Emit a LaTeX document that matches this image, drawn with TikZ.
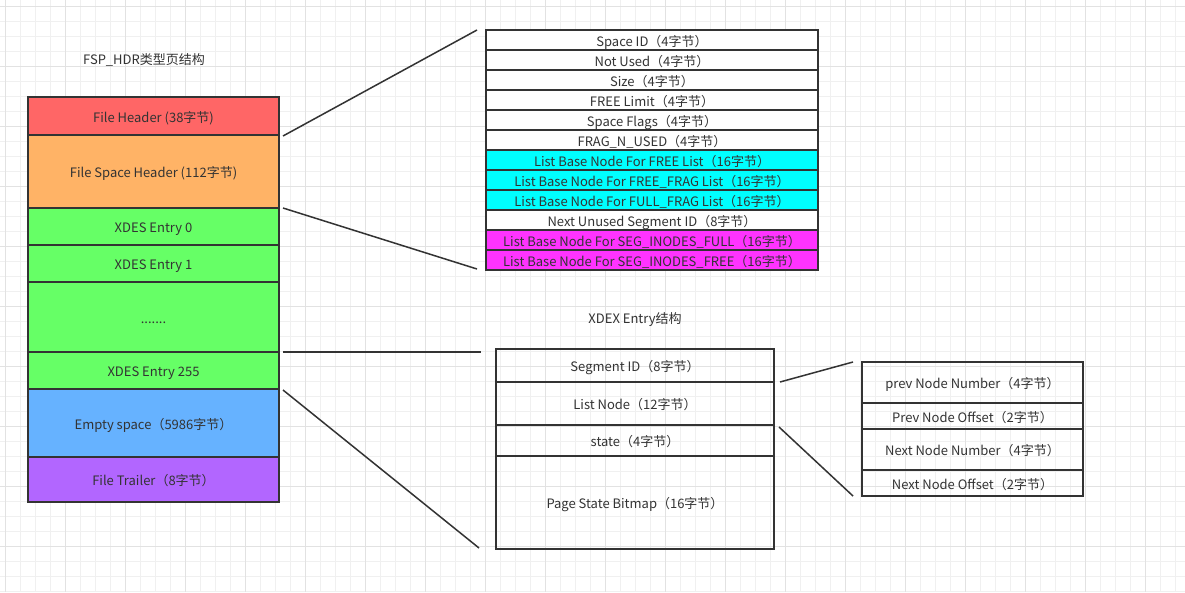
\documentclass[tikz,border=0pt]{standalone}
\usepackage{fontspec}
\setmainfont{Noto Sans CJK SC}
\usetikzlibrary{positioning}
\definecolor{txtgray}{HTML}{333333}
\definecolor{linegray}{HTML}{333333}
\definecolor{gridminor}{HTML}{F0F0F0}
\definecolor{gridmajor}{HTML}{E2E2E2}
\definecolor{hdrred}{HTML}{FF6666}
\definecolor{fsporange}{HTML}{FFB366}
\definecolor{xdesgreen}{HTML}{66FF66}
\definecolor{emptyblue}{HTML}{66B2FF}
\definecolor{trailpurple}{HTML}{B266FF}
\definecolor{listcyan}{HTML}{00FFFF}
\definecolor{segmagenta}{HTML}{FF33FF}

\begin{document}
\begin{tikzpicture}[x=1pt, y=-1pt,
    every node/.style={font=\fontsize{13}{15}\selectfont, text=txtgray},
    cell/.style={draw=linegray, line width=1.5pt, outer sep=0pt, inner sep=0pt,
        text height=12pt, text depth=0pt},
    pagecell/.style={cell, minimum width=251pt},
    spacecell/.style={cell, minimum width=332pt, minimum height=20pt},
    xdescell/.style={cell, minimum width=278pt},
    nodecell/.style={cell, minimum width=221pt},
    link/.style={draw=linegray, line width=1.5pt}]
    \useasboundingbox[fill=white] (0,0) rectangle (1185,592);
    % background grid
    \foreach \i in {0,...,78}
        \draw[gridminor, line width=0.8pt] (5+15*\i,0) -- (5+15*\i,592);
    \foreach \i in {0,...,39}
        \draw[gridminor, line width=0.8pt] (0,6.7+15*\i) -- (1185,6.7+15*\i);
    \foreach \i in {0,...,19}
        \draw[gridmajor, line width=0.8pt] (5+60*\i,0) -- (5+60*\i,592);
    \foreach \i in {0,...,9}
        \draw[gridmajor, line width=0.8pt] (0,6.7+60*\i) -- (1185,6.7+60*\i);

    % FSP_HDR page
    \node (pagetitle) at (144,60) {FSP\_HDR类型页结构};
    \node[pagecell, fill=hdrred, minimum height=38pt, anchor=north west] (fh) at (28,97) {File Header (38字节)};
    \node[pagecell, fill=fsporange, minimum height=73pt, below=0pt of fh] (fsh) {File Space Header (112字节)};
    \node[pagecell, fill=xdesgreen, minimum height=37pt, below=0pt of fsh] (x0) {XDES Entry 0};
    \node[pagecell, fill=xdesgreen, minimum height=37pt, below=0pt of x0] (x1) {XDES Entry 1};
    \node[pagecell, fill=xdesgreen, minimum height=70pt, below=0pt of x1] (xdots) {.......};
    \node[pagecell, fill=xdesgreen, minimum height=37pt, below=0pt of xdots] (x255) {XDES Entry 255};
    \node[pagecell, fill=emptyblue, minimum height=68pt, below=0pt of x255] (empty) {Empty space（5986字节）};
    \node[pagecell, fill=trailpurple, minimum height=45pt, below=0pt of empty] (trailer) {File Trailer（8字节）};

    % File Space Header
    \foreach \t/\c [count=\i] in {Space ID（4字节）/white, Not Used（4字节）/white,
        Size（4字节）/white, FREE Limit（4字节）/white, Space Flags（4字节）/white,
        FRAG\_N\_USED（4字节）/white,
        List Base Node For FREE List（16字节）/listcyan,
        List Base Node For FREE\_FRAG List（16字节）/listcyan,
        List Base Node For FULL\_FRAG List（16字节）/listcyan,
        Next Unused Segment ID（8字节）/white,
        List Base Node For SEG\_INODES\_FULL（16字节）/segmagenta,
        List Base Node For SEG\_INODES\_FREE（16字节）/segmagenta}
        \node[spacecell, fill=\c] (sp\i) at (652,20+20*\i) {\t};

    % XDES Entry
    \node (xdestitle) at (635,320) {XDEX Entry结构};
    \node[xdescell, minimum height=33pt, anchor=north west] (seg) at (496,349) {Segment ID（8字节）};
    \node[xdescell, minimum height=43pt, below=0pt of seg] (ln) {List Node（12字节）};
    \node[xdescell, minimum height=31pt, below=0pt of ln] (state) {state（4字节）};
    \node[xdescell, minimum height=93pt, below=0pt of state] (pbm) {Page State Bitmap（16字节）};

    % List Node
    \node[nodecell, minimum height=41pt, anchor=north west] (pnn) at (862,362) {prev Node Number（4字节）};
    \node[nodecell, minimum height=26pt, below=0pt of pnn] (pno) {Prev Node Offset（2字节）};
    \node[nodecell, minimum height=41pt, below=0pt of pno] (nnn) {Next Node Number（4字节）};
    \node[nodecell, minimum height=26pt, below=0pt of nnn] (nno) {Next Node Offset（2字节）};

    % links
    \draw[link] ([shift={(4,1)}]fh.south east) -- ([shift={(-9,0)}]sp1.north west);
    \draw[link] ([shift={(4,0)}]x0.north east) -- ([shift={(-9,-1)}]sp12.south west);
    \draw[link] ([shift={(4,0)}]x255.north east) -- ([shift={(-15,3)}]seg.north west);
    \draw[link] ([shift={(4,1)}]empty.north east) -- ([shift={(-17,-1)}]pbm.south west);
    \draw[link] ([shift={(6,0)}]seg.south east) -- ([shift={(-9,0)}]pnn.north west);
    \draw[link] ([shift={(5,2)}]ln.south east) -- ([shift={(-9,0)}]nno.south west);
\end{tikzpicture}
\end{document}
